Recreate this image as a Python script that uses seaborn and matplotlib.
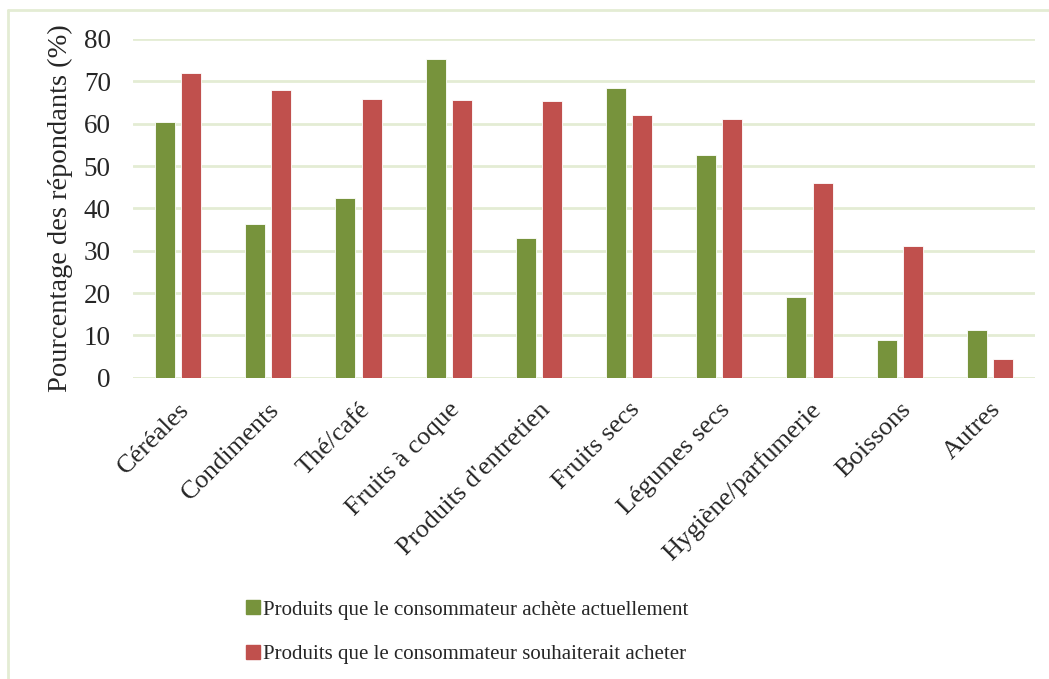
import matplotlib
matplotlib.use("Agg")
import matplotlib.pyplot as plt
from matplotlib.lines import Line2D
import seaborn as sns
import pandas as pd

categories = ["Céréales", "Condiments", "Thé/café", "Fruits à coque",
              "Produits d'entretien", "Fruits secs", "Légumes secs",
              "Hygiène/parfumerie", "Boissons", "Autres"]
achete = [60.5, 36.4, 42.5, 75.2, 32.9, 68.5, 52.5, 19.1, 8.9, 11.2]
souhaite = [72.0, 68.0, 65.8, 65.5, 65.3, 62.0, 61.0, 45.9, 31.1, 4.5]
series_names = ["Produits que le consommateur achète actuellement",
                "Produits que le consommateur souhaiterait acheter"]
colors = ["#77933C", "#C0504D"]
yticks = [0, 10, 20, 30, 40, 50, 60, 70, 80]

df = pd.DataFrame({
    "Catégorie": categories * 2,
    "Valeur": achete + souhaite,
    "Série": [series_names[0]] * len(categories) + [series_names[1]] * len(categories),
})

sns.set_theme(style="white")
plt.rcParams["font.family"] = ["Liberation Serif", "DejaVu Serif"]

W, H = 1049, 679
fig = plt.figure(figsize=(W / 100, H / 100), dpi=100)
ax = fig.add_axes([133 / W, 1 - 377.7 / H, (1035 - 133) / W, (377.7 - 39) / H])

grid_c = "#E4ECD4"
ax.set_axisbelow(True)
ax.yaxis.grid(True, color=grid_c, linewidth=2.0)
ax.xaxis.grid(False)

sns.barplot(data=df, x="Catégorie", y="Valeur", hue="Série", order=categories,
            hue_order=series_names, palette=colors, width=0.58, gap=0.23,
            edgecolor="white", linewidth=0.6, saturation=1, ax=ax, legend=False)

ax.set_ylim(0, 80)
ax.set_xlim(-0.5, len(categories) - 0.5)
ax.set_yticks(yticks)
ax.set_yticklabels([str(t) for t in yticks], fontsize=19.5)
for s in ax.spines.values():
    s.set_visible(False)
ax.tick_params(axis="y", length=0, pad=16)
ax.tick_params(axis="x", length=0, pad=15)
ax.set_xticks(range(len(categories)))
ax.set_xticklabels(categories, rotation=45, ha="right", rotation_mode="anchor",
                   fontsize=19)
ax.set_xlabel("")
ax.set_ylabel("Pourcentage des répondants (%)", fontsize=20.5, labelpad=8)

# bottom baseline in the grid colour
ax.axhline(0, color=grid_c, linewidth=2.0, zorder=0.5)

handles = [plt.Rectangle((0, 0), 1, 1, color=c) for c in colors]
fig.legend(handles, series_names, loc="upper left",
           bbox_to_anchor=(238 / W, 1 - 592 / H), frameon=False, fontsize=15,
           handlelength=0.65, handleheight=0.65, handletextpad=0.15,
           labelspacing=1.2, borderaxespad=0)

# outer frame (left and top edges)
fig.add_artist(Line2D([8 / W, 8 / W], [0, 1 - 10 / H], color=grid_c, linewidth=2,
                      transform=fig.transFigure))
fig.add_artist(Line2D([8 / W, 1], [1 - 10 / H, 1 - 10 / H], color=grid_c, linewidth=2,
                      transform=fig.transFigure))

fig.savefig("out.png", dpi=100)
